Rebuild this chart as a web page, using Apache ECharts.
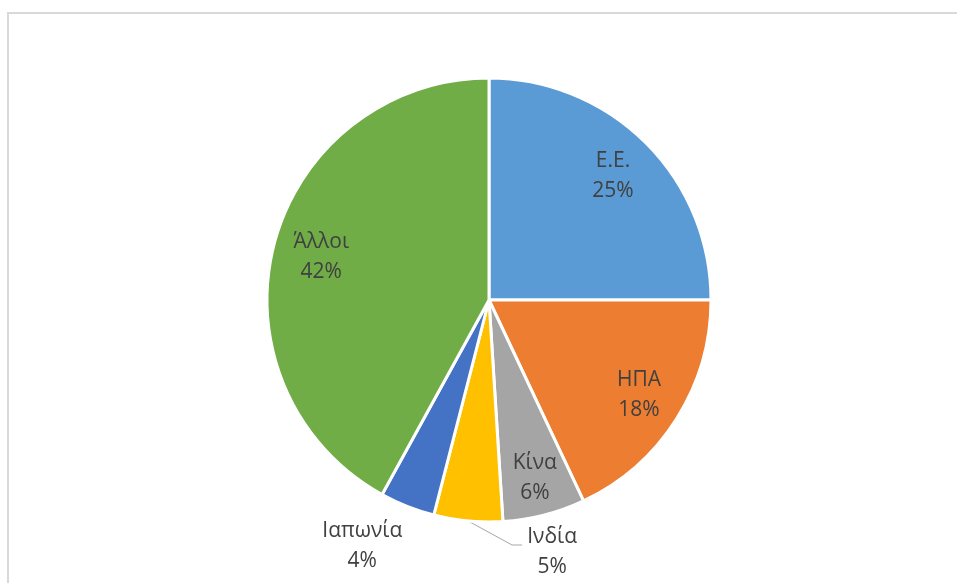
<!DOCTYPE html>
<html>
<head>
<meta charset="utf-8">
<script src="https://cdn.jsdelivr.net/npm/echarts@6/dist/echarts.min.js"></script>
<style>
  html, body { margin: 0; padding: 0; background: #fff; }
  #pie { width: 957px; height: 583px; }
</style>
</head>
<body>
<div id="pie"></div>
<script>
var myChart = echarts.init(document.getElementById('pie'));

// data (percent shares)
var names = ['Ε.Ε.', 'ΗΠΑ', 'Κίνα', 'Ινδία', 'Ιαπωνία', 'Άλλοι'];
var shares = [25, 18, 6, 5, 4, 42];
var colors = ['#5B9BD5', '#ED7D31', '#A5A5A5', '#FFC000', '#4472C4', '#70AD47'];

var cx = 489, cy = 300, R = 222;
// how far out the inside labels sit, as a share of the radius
var labelRadius = [0.79, 0.80, 0.83, 0, 0, 0.78];

var total = shares.reduce(function (a, b) { return a + b; }, 0);

function midAngle(i) {
    var before = 0;
    for (var k = 0; k < i; k++) before += shares[k];
    return (before + shares[i] / 2) / total * Math.PI * 2;
}

function edgePoint(i) {
    var a = midAngle(i);
    return [cx + R * Math.sin(a), cy - R * Math.cos(a)];
}

var data = names.map(function (n, i) {
    var item = { name: n, value: shares[i], itemStyle: { color: colors[i] } };
    if (n === 'Ινδία') {
        item.label = { position: 'outside' };
        item.labelLine = { show: true };
    }
    if (n === 'Ιαπωνία') {
        item.label = { position: 'outside' };
        item.labelLine = { show: false };
    }
    return item;
});

myChart.setOption({
    animation: false,
    graphic: [{
        type: 'rect',
        shape: { x: 8, y: 13, width: 1200, height: 1200 },
        style: { fill: 'none', stroke: '#D9D9D9', lineWidth: 2 },
        silent: true
    }],
    series: [{
        type: 'pie',
        center: [cx, cy],
        radius: R,
        startAngle: 90,
        clockwise: true,
        percentPrecision: 0,
        avoidLabelOverlap: false,
        itemStyle: {
            borderColor: '#fff',
            borderWidth: 3
        },
        label: {
            show: true,
            position: 'inside',
            formatter: '{b}\n{d}%',
            color: '#404040',
            fontFamily: 'Open Sans',
            fontSize: 21,
            lineHeight: 30,
            align: 'center'
        },
        labelLine: {
            smooth: false,
            length: 20,
            length2: 10,
            lineStyle: { color: '#A6A6A6', width: 1 }
        },
        labelLayout: function (p) {
            var i = p.dataIndex;
            var e = edgePoint(i);
            if (names[i] === 'Ινδία') {
                return {
                    x: e[0] + 84, y: e[1] + 31,
                    align: 'center', verticalAlign: 'middle',
                    labelLinePoints: [[e[0], e[1]], [e[0] + 44, e[1] + 24], [e[0] + 54, e[1] + 24]]
                };
            }
            if (names[i] === 'Ιαπωνία') {
                return { x: e[0] - 45, y: e[1] + 40, align: 'center', verticalAlign: 'middle' };
            }
            var a = midAngle(i);
            var r = R * labelRadius[i];
            return {
                x: cx + r * Math.sin(a),
                y: cy - r * Math.cos(a),
                align: 'center',
                verticalAlign: 'middle'
            };
        },
        data: data
    }]
});
</script>
</body>
</html>
